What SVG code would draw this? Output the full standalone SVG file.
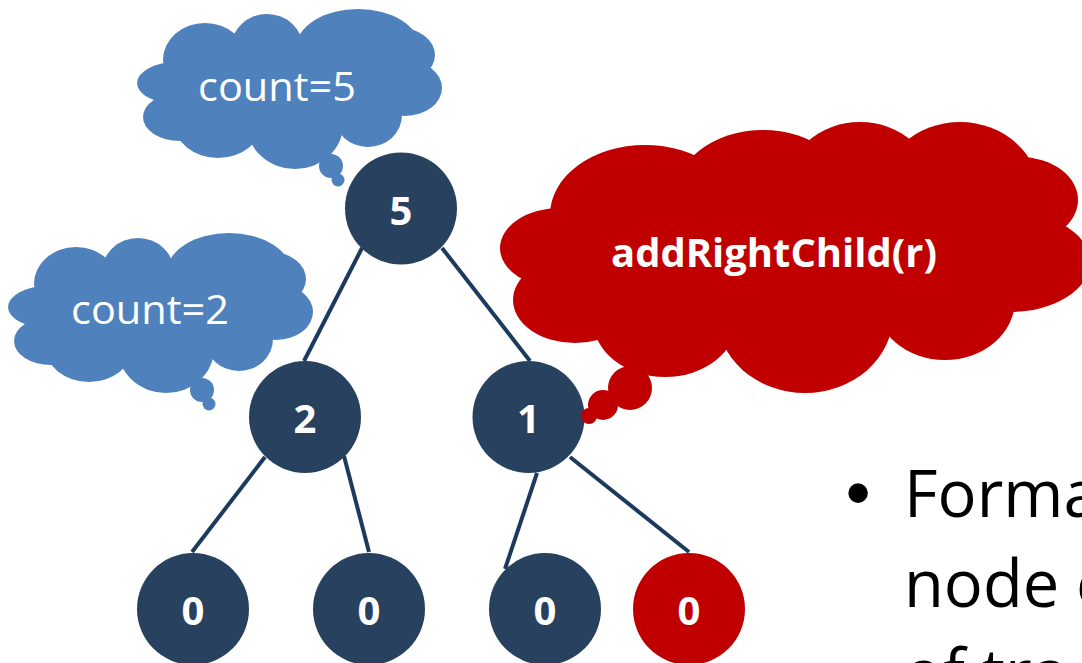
<svg xmlns="http://www.w3.org/2000/svg" xmlns:xlink="http://www.w3.org/1999/xlink" width="1082" height="663" viewBox="0 0 1082 663">
  <style>
    .edge { stroke: #1c3a5e; stroke-width: 4; stroke-linecap: butt; fill: none; }
    .node { fill: #27415f; }
    .node-new { fill: #c00000; }
    .num { font-family: "Open Sans", "Liberation Sans", sans-serif; font-weight: bold; font-size: 40px; fill: #ffffff; text-anchor: middle; }
    .blue { fill: #4f81bd; }
    .red { fill: #c00000; }
    .label { font-family: "Open Sans", "Liberation Sans", sans-serif; font-size: 40px; fill: #ffffff; text-anchor: middle; }
    .label-bold { font-weight: bold; }
    .body { font-family: "Open Sans", "Liberation Sans", sans-serif; font-size: 65px; fill: #000000; }
    .dot { font-family: "Liberation Sans", "DejaVu Sans", sans-serif; font-size: 72px; fill: #000000; text-anchor: middle; }
  </style>
  <defs>
    <!-- thought cloud built from overlapping ellipses, with its two small tail bubbles -->
    <g id="cloud-small" class="blue">
      <ellipse cx="177" cy="83" rx="40" ry="21"/>
      <ellipse cx="180" cy="117" rx="37" ry="24"/>
      <ellipse cx="218" cy="122" rx="44" ry="36"/>
      <ellipse cx="295" cy="125" rx="48" ry="44"/>
      <ellipse cx="368" cy="115" rx="34" ry="32"/>
      <ellipse cx="405" cy="88" rx="37" ry="28"/>
      <ellipse cx="400" cy="55" rx="35" ry="27"/>
      <ellipse cx="358" cy="48" rx="62" ry="39"/>
      <ellipse cx="267" cy="48" rx="36" ry="34"/>
      <ellipse cx="205" cy="60" rx="42" ry="37"/>
      <rect x="175" y="50" width="225" height="70"/>
      <circle cx="331" cy="166" r="12"/>
      <circle cx="338" cy="180" r="6.5"/>
    </g>
  </defs>

  <!-- tree edges -->
  <g id="connectors">
    <line class="edge" x1="362" y1="248" x2="304" y2="361"/>
    <line class="edge" x1="442" y1="248" x2="530" y2="361"/>
    <line class="edge" x1="265" y1="457" x2="192" y2="552"/>
    <line class="edge" x1="344" y1="456" x2="369" y2="552"/>
    <line class="edge" x1="537" y1="473" x2="505" y2="569"/>
    <line class="edge" x1="570" y1="457" x2="689" y2="552"/>
  </g>

  <!-- tree nodes -->
  <g id="node-root">
    <circle class="node" cx="401" cy="208.5" r="56"/>
    <text class="num" x="401" y="225">5</text>
  </g>
  <g id="node-left">
    <circle class="node" cx="305" cy="417" r="56"/>
    <text class="num" x="305" y="433">2</text>
  </g>
  <g id="node-right">
    <circle class="node" cx="528.5" cy="417" r="56"/>
    <text class="num" x="528.5" y="433">1</text>
  </g>
  <g id="node-left-left">
    <circle class="node" cx="193" cy="609" r="56"/>
    <text class="num" x="193" y="625">0</text>
  </g>
  <g id="node-left-right">
    <circle class="node" cx="369" cy="609" r="56"/>
    <text class="num" x="369" y="625">0</text>
  </g>
  <g id="node-right-left">
    <circle class="node" cx="545" cy="609" r="56"/>
    <text class="num" x="545" y="625">0</text>
  </g>
  <g id="node-right-right">
    <circle class="node-new" cx="689" cy="609" r="56"/>
    <text class="num" x="689" y="625">0</text>
  </g>

  <!-- callouts -->
  <g id="callout-count-root">
    <use xlink:href="#cloud-small" href="#cloud-small"/>
    <text class="label" x="277" y="101" textLength="158" lengthAdjust="spacingAndGlyphs">count=5</text>
  </g>
  <g id="callout-count-left">
    <use xlink:href="#cloud-small" href="#cloud-small" transform="translate(-129 224)"/>
    <text class="label" x="150" y="324" textLength="158" lengthAdjust="spacingAndGlyphs">count=2</text>
  </g>
  <g id="callout-add">
    <g class="red">
      <ellipse cx="560" cy="248" rx="60" ry="40"/>
      <ellipse cx="575" cy="300" rx="62" ry="43"/>
      <ellipse cx="665" cy="320" rx="72" ry="57"/>
      <ellipse cx="805" cy="315" rx="88" ry="78"/>
      <ellipse cx="945" cy="300" rx="70" ry="60"/>
      <ellipse cx="1010" cy="262" rx="80" ry="50"/>
      <ellipse cx="1020" cy="200" rx="58" ry="43"/>
      <ellipse cx="960" cy="195" rx="80" ry="73"/>
      <ellipse cx="860" cy="190" rx="75" ry="68"/>
      <ellipse cx="763" cy="200" rx="90" ry="70"/>
      <ellipse cx="645" cy="215" rx="95" ry="70"/>
      <rect x="580" y="200" width="430" height="110"/>
      <circle cx="630" cy="388" r="22"/>
      <circle cx="603" cy="405" r="15"/>
      <circle cx="589" cy="416" r="8"/>
    </g>
    <text class="label label-bold" x="774" y="267" textLength="326" lengthAdjust="spacingAndGlyphs">addRightChild(r)</text>
  </g>

  <!-- bullet text running off the right edge -->
  <g id="bullet-text">
    <text class="dot" x="858" y="517">•</text>
    <text class="body" x="904" y="517">Forma</text>
    <text class="body" x="904" y="607">node o</text>
    <text class="body" x="904" y="696">of tra</text>
  </g>
</svg>
